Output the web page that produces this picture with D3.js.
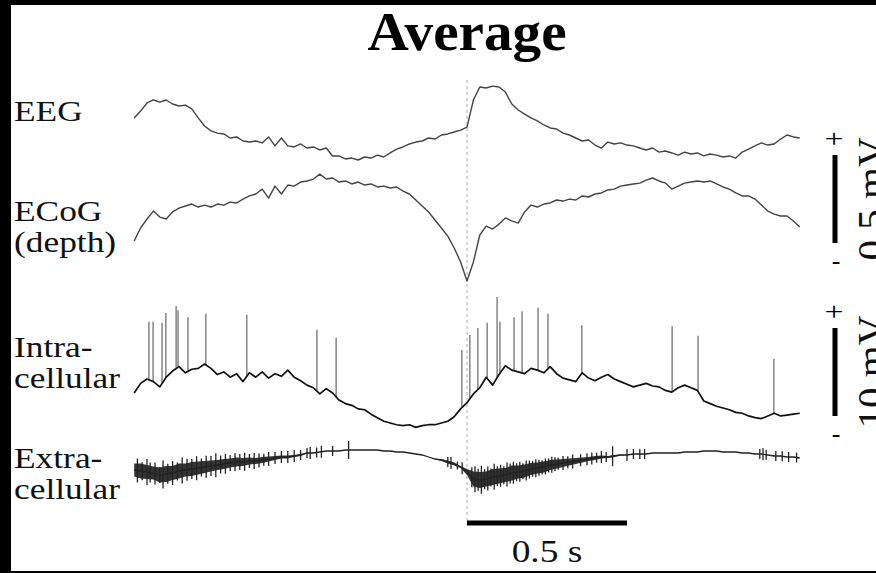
<!DOCTYPE html>
<html>
<head>
<meta charset="utf-8">
<script src="https://cdn.jsdelivr.net/npm/d3@7"></script>
<style>
  html, body { margin: 0; padding: 0; background: #000; }
  svg { display: block; }
</style>
</head>
<body>
<div id="chart"></div>
<script>
// sampling grid (s), one sample every 20 ms, 0 = dashed line
const tStart = -1.04, tStep = 0.02, nSamples = 105;

// EEG (µV)
const eeg = [239,278,324,341,329,341,318,307,312,290,239,193,165,153,148,125,131,108,102,108,
  97,131,80,125,80,74,91,68,74,57,68,23,23,6,11,0,17,11,28,17,
  40,62,74,91,102,108,125,119,142,148,159,170,187,341,415,409,420,415,386,318,
  284,261,239,222,199,182,176,153,142,125,108,114,85,68,102,91,97,85,80,68,
  57,68,45,51,40,28,45,34,40,23,34,28,17,23,11,45,62,80,97,85,
  91,119,142,131,125];

// ECoG depth (µV)
const ecog = [250,324,375,420,386,375,415,437,449,460,443,454,443,460,454,471,466,488,506,517,
  545,494,562,517,568,562,585,591,602,630,602,608,585,591,574,585,568,574,557,562,
  551,557,534,517,483,449,415,369,324,278,210,131,23,131,284,335,318,346,381,364,
  352,415,454,443,460,466,483,477,488,483,506,500,517,523,540,545,562,568,574,579,
  596,608,591,579,545,562,579,585,591,585,591,574,557,545,523,506,506,488,454,420,
  403,392,392,364,329];

// intracellular membrane potential, relative (mV)
const intra = [4.2,5.3,5.8,5.5,4.9,6.0,6.7,7.2,6.5,6.9,7.0,7.5,7.0,6.3,6.6,6.0,6.4,5.5,6.5,6.0,
  6.6,5.9,6.4,6.1,6.8,6.0,5.6,5.1,4.8,4.1,4.7,4.2,3.4,3.0,2.8,2.4,2.3,1.8,1.4,1.0,
  0.8,0.6,0.5,0.6,0.3,0.5,0.6,0.6,0.8,1.0,1.5,2.4,3.1,4.1,4.8,6.0,5.1,6.3,7.3,6.8,
  6.6,6.4,7.0,6.8,6.5,7.2,6.4,5.9,5.7,5.5,6.5,5.9,5.6,6.0,6.3,5.8,5.5,5.2,4.9,5.1,
  5.3,5.0,4.9,4.5,4.3,4.8,5.1,4.8,4.5,3.3,3.0,2.7,2.5,2.3,2.0,1.9,1.6,1.4,1.3,1.6,
  1.9,1.6,1.7,1.8,1.9];

// action potentials: time (s) and peak (mV)
const spikeT = [-0.994,-0.981,-0.953,-0.941,-0.909,-0.903,-0.872,-0.816,-0.688,-0.469,-0.409,
  -0.016,0.009,0.034,0.063,0.094,0.103,0.147,0.172,0.222,0.253,0.359,0.641,0.722,0.959];
const spikePeak = [12.3,12.3,12.2,13.3,14.1,13.6,12.8,13.2,13.1,11.4,10.5,
  9.1,10.8,11.6,12.2,15.1,12.3,12.8,13.5,13.9,13.2,11.9,11.8,10.7,8.1];

// extracellular field (µV) and background unit noise half-width (µV)
const extra = [200,190,180,170,150,160,170,190,200,210,220,230,240,250,260,270,280,280,290,290,
  300,310,320,330,330,340,350,370,370,380,390,390,390,400,400,400,400,400,400,390,
  390,380,380,370,360,350,330,310,300,280,260,230,180,110,100,110,130,140,150,170,
  180,190,210,220,230,250,260,270,280,290,300,310,320,330,330,340,350,350,360,360,
  360,370,370,370,370,370,380,380,380,390,390,390,380,380,380,370,370,360,360,350,
  340,340,330,330,320];
const extraNoise = [65,75,70,65,75,80,70,75,65,70,65,60,55,50,50,45,45,40,35,30,
  30,25,20,15,15,10,10,5,0,0,0,0,0,0,0,0,0,0,0,0,
  0,0,0,0,0,0,0,0,10,15,15,10,30,75,80,75,80,75,70,75,
  65,65,60,55,55,50,45,40,35,30,25,20,20,15,10,10,5,0,0,0,
  0,0,0,0,0,0,0,0,0,0,0,0,0,0,0,0,0,0,0,0,
  0,0,0,0,0];

// extracellular unit spikes: time (s) and half-height (µV)
const unitT = [-1.03,-1.015,-1.0,-0.99,-0.975,-0.96,-0.95,-0.935,-0.92,-0.905,-0.89,-0.875,-0.86,
  -0.845,-0.83,-0.815,-0.8,-0.785,-0.77,-0.755,-0.74,-0.725,-0.71,-0.695,-0.68,-0.665,-0.65,
  -0.635,-0.62,-0.6,-0.58,-0.56,-0.54,-0.52,-0.5,-0.49,-0.47,-0.455,-0.42,-0.37,
  -0.06,-0.05,-0.03,-0.015,
  0.015,0.025,0.035,0.045,0.055,0.065,0.075,0.085,0.095,0.105,0.115,0.125,0.135,0.145,
  0.155,0.165,0.175,0.185,0.195,0.205,0.215,0.225,0.235,0.245,0.255,0.265,0.275,0.285,
  0.3,0.315,0.33,0.355,0.375,0.39,0.405,0.42,0.435,0.455,0.5,0.52,0.54,0.555,
  0.915,0.925,0.935,0.965,0.985,1.005,1.03];
const unitAmp = [120,90,130,100,110,80,140,100,120,90,130,110,100,
  120,90,110,100,120,90,100,80,90,80,90,70,80,70,
  60,70,60,60,60,60,50,50,60,50,60,50,90,
  50,60,40,60,
  100,130,110,140,100,120,90,130,100,110,90,120,100,110,
  90,100,80,100,90,80,90,80,70,80,70,80,70,60,
  70,60,70,60,60,60,50,60,50,100,60,50,50,50,
  50,60,50,50,50,50,50];

const labels = [
  {lines: ["EEG"], y: 121},
  {lines: ["ECoG", "(depth)"], y: 221},
  {lines: ["Intra-", "cellular"], y: 357},
  {lines: ["Extra-", "cellular"], y: 468}
];

const W = 876, H = 573;
const t = d3.range(nSamples).map(i => tStart + i * tStep);

const svg = d3.select("#chart").append("svg")
    .attr("width", W).attr("height", H);

// black frame, white page
svg.append("rect").attr("width", W).attr("height", H).attr("fill", "#000");
svg.append("rect").attr("x", 11).attr("y", 5).attr("width", W - 11).attr("height", 566).attr("fill", "#fff");

const serif = "'Liberation Serif', 'DejaVu Serif', serif";

// scales
const x = d3.scaleLinear().domain([tStart, tStart + (nSamples - 1) * tStep]).range([134.2, 799.8]);
const yEEG = d3.scaleLinear().domain([0, 500]).range([160, 72]);
const yECoG = d3.scaleLinear().domain([0, 500]).range([285, 197]);
const yIntra = d3.scaleLinear().domain([0, 10]).range([430, 342]);
const yExtra = d3.scaleLinear().domain([0, 100]).range([490, 480]);

// title
svg.append("text")
    .attr("transform", "translate(467,50) scale(1.06,1)")
    .attr("text-anchor", "middle")
    .attr("fill", "#000")
    .style("font-family", serif).style("font-weight", "bold").style("font-size", "54px")
    .text("Average");

// trace labels
labels.forEach(l => {
  l.lines.forEach((s, k) => {
    svg.append("text")
        .attr("transform", "translate(14," + (l.y + k * 31) + ") scale(1.22,1)")
        .attr("fill", "#111")
        .style("font-family", serif).style("font-size", "29px")
        .text(s);
  });
});

// dashed line at time zero
svg.append("line")
    .attr("x1", x(0)).attr("x2", x(0))
    .attr("y1", 80).attr("y2", 521)
    .attr("stroke", "#aaa").attr("stroke-width", 1)
    .attr("stroke-dasharray", "3,3");

const line = (ys, vals) => d3.line()
    .x((d, i) => x(t[i]))
    .y((d, i) => ys(vals[i]));

// EEG + ECoG
svg.append("path").datum(eeg)
    .attr("d", line(yEEG, eeg))
    .attr("fill", "none").attr("stroke", "#444").attr("stroke-width", 1.4)
    .attr("stroke-linejoin", "round");
svg.append("path").datum(ecog)
    .attr("d", line(yECoG, ecog))
    .attr("fill", "none").attr("stroke", "#444").attr("stroke-width", 1.4)
    .attr("stroke-linejoin", "round");

// value of a sampled trace at time s
const at = (vals, s) => {
  const f = (s - tStart) / tStep;
  const i = Math.max(0, Math.min(nSamples - 2, Math.floor(f)));
  const r = f - i;
  return vals[i] * (1 - r) + vals[i + 1] * r;
};

// intracellular: spikes then the membrane trace
svg.append("g").selectAll("line")
    .data(spikeT)
    .enter().append("line")
    .attr("x1", d => x(d)).attr("x2", d => x(d))
    .attr("y1", d => yIntra(at(intra, d)))
    .attr("y2", (d, i) => yIntra(spikePeak[i]))
    .attr("stroke", "#666").attr("stroke-width", 1.2);
svg.append("path").datum(intra)
    .attr("d", line(yIntra, intra))
    .attr("fill", "none").attr("stroke", "#111").attr("stroke-width", 1.7)
    .attr("stroke-linejoin", "round");

// extracellular: noise band, field trace, unit spikes
svg.append("path").datum(extra)
    .attr("d", d3.area()
        .x((d, i) => x(t[i]))
        .y0((d, i) => yExtra(extra[i] - extraNoise[i]))
        .y1((d, i) => yExtra(extra[i] + extraNoise[i])))
    .attr("fill", "#111").attr("opacity", 0.85);
svg.append("path").datum(extra)
    .attr("d", line(yExtra, extra))
    .attr("fill", "none").attr("stroke", "#222").attr("stroke-width", 1.3);
svg.append("g").selectAll("line")
    .data(unitT)
    .enter().append("line")
    .attr("x1", d => x(d)).attr("x2", d => x(d))
    .attr("y1", (d, i) => yExtra(at(extra, d) - unitAmp[i]))
    .attr("y2", (d, i) => yExtra(at(extra, d) + unitAmp[i]))
    .attr("stroke", "#222").attr("stroke-width", 1.3);

// time scale bar
svg.append("line")
    .attr("x1", x(0)).attr("x2", x(0.5))
    .attr("y1", 523).attr("y2", 523)
    .attr("stroke", "#000").attr("stroke-width", 5);
svg.append("text")
    .attr("transform", "translate(" + ((x(0) + x(0.5)) / 2) + ",562) scale(1.17,1)")
    .attr("text-anchor", "middle")
    .attr("fill", "#111")
    .style("font-family", serif).style("font-size", "32px")
    .text("0.5 s");

// voltage scale bars
const vBar = (top, len, label) => {
  const g = svg.append("g");
  g.append("line")
      .attr("x1", 835).attr("x2", 835)
      .attr("y1", top).attr("y2", top + len)
      .attr("stroke", "#000").attr("stroke-width", 5);
  g.append("text").attr("transform", "translate(834," + (top - 8) + ") scale(1.3,1)")
      .attr("text-anchor", "middle").attr("fill", "#000")
      .style("font-family", serif).style("font-size", "26px").text("+");
  g.append("text").attr("x", 836).attr("y", top + len + 26)
      .attr("text-anchor", "middle").attr("fill", "#000")
      .style("font-family", serif).style("font-size", "26px").text("-");
  g.append("text")
      .attr("transform", "translate(885," + (top + len / 2) + ") rotate(-90)")
      .attr("text-anchor", "middle").attr("fill", "#111")
      .style("font-family", serif).style("font-size", "41px")
      .text(label);
};
vBar(155, yEEG(0) - yEEG(500), "0.5 mV");
vBar(328, yIntra(0) - yIntra(10), "10 mV");
</script>
</body>
</html>
